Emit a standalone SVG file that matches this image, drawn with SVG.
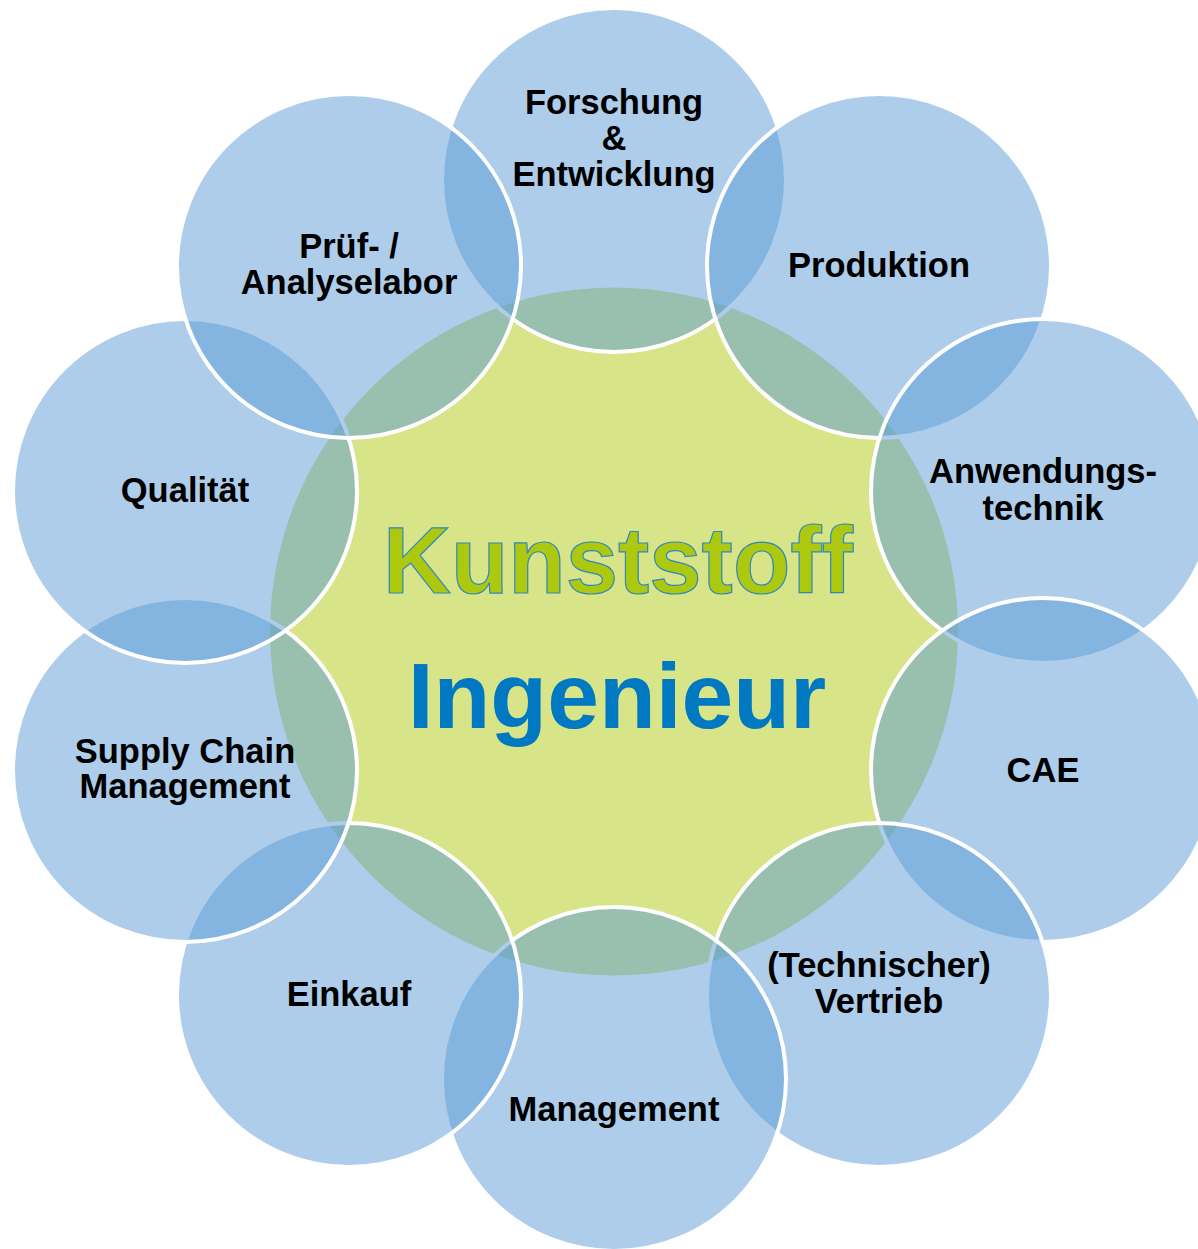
<svg xmlns="http://www.w3.org/2000/svg" width="1198" height="1249" viewBox="0 0 1198 1249">
  <style>
    .bub { fill: #5b9bd5; fill-opacity: 0.5; stroke: #ffffff; stroke-width: 4; }
    .lbl { font-family: "Liberation Sans", Arial, sans-serif; font-weight: bold; font-size: 34.5px; fill: #000000; text-anchor: middle; }
    .big { font-family: "Liberation Sans", Arial, sans-serif; font-weight: bold; text-anchor: middle; }
  </style>
  <rect width="1198" height="1249" fill="#ffffff"/>
  <g id="center">
    <circle cx="614" cy="631.5" r="344" fill="#d7e488"/>
    <text class="big" x="618" y="593" font-size="94" fill="#adc90f" stroke="#2f87c4" stroke-width="1.2">Kunststoff</text>
    <text class="big" x="617" y="728" font-size="93" fill="#0079c2">Ingenieur</text>
  </g>
  <g id="forschung">
    <circle class="bub" cx="614" cy="180" r="172"/>
    <text class="lbl" x="614" y="114">Forschung</text>
    <text class="lbl" x="614" y="150">&amp;</text>
    <text class="lbl" x="614" y="186">Entwicklung</text>
  </g>
  <g id="produktion">
    <circle class="bub" cx="879" cy="266" r="172"/>
    <text class="lbl" x="879" y="277">Produktion</text>
  </g>
  <g id="anwendungstechnik">
    <circle class="bub" cx="1043" cy="491" r="172"/>
    <text class="lbl" x="1043" y="483">Anwendungs-</text>
    <text class="lbl" x="1043" y="520">technik</text>
  </g>
  <g id="cae">
    <circle class="bub" cx="1043" cy="770" r="172"/>
    <text class="lbl" x="1043" y="782">CAE</text>
  </g>
  <g id="vertrieb">
    <circle class="bub" cx="879" cy="995" r="172"/>
    <text class="lbl" x="879" y="977">(Technischer)</text>
    <text class="lbl" x="879" y="1013">Vertrieb</text>
  </g>
  <g id="management">
    <circle class="bub" cx="614" cy="1079" r="172"/>
    <text class="lbl" x="614" y="1121">Management</text>
  </g>
  <g id="einkauf">
    <circle class="bub" cx="349" cy="995" r="172"/>
    <text class="lbl" x="349" y="1006">Einkauf</text>
  </g>
  <g id="supplychain">
    <circle class="bub" cx="185" cy="770" r="172"/>
    <text class="lbl" x="185" y="763">Supply Chain</text>
    <text class="lbl" x="185" y="798">Management</text>
  </g>
  <g id="qualitaet">
    <circle class="bub" cx="185" cy="491" r="172"/>
    <text class="lbl" x="185" y="502">Qualität</text>
  </g>
  <g id="pruef">
    <circle class="bub" cx="349" cy="266" r="172"/>
    <text class="lbl" x="349" y="258">Prüf- /</text>
    <text class="lbl" x="349" y="294">Analyselabor</text>
  </g>
  <g id="connectors"/>
</svg>
